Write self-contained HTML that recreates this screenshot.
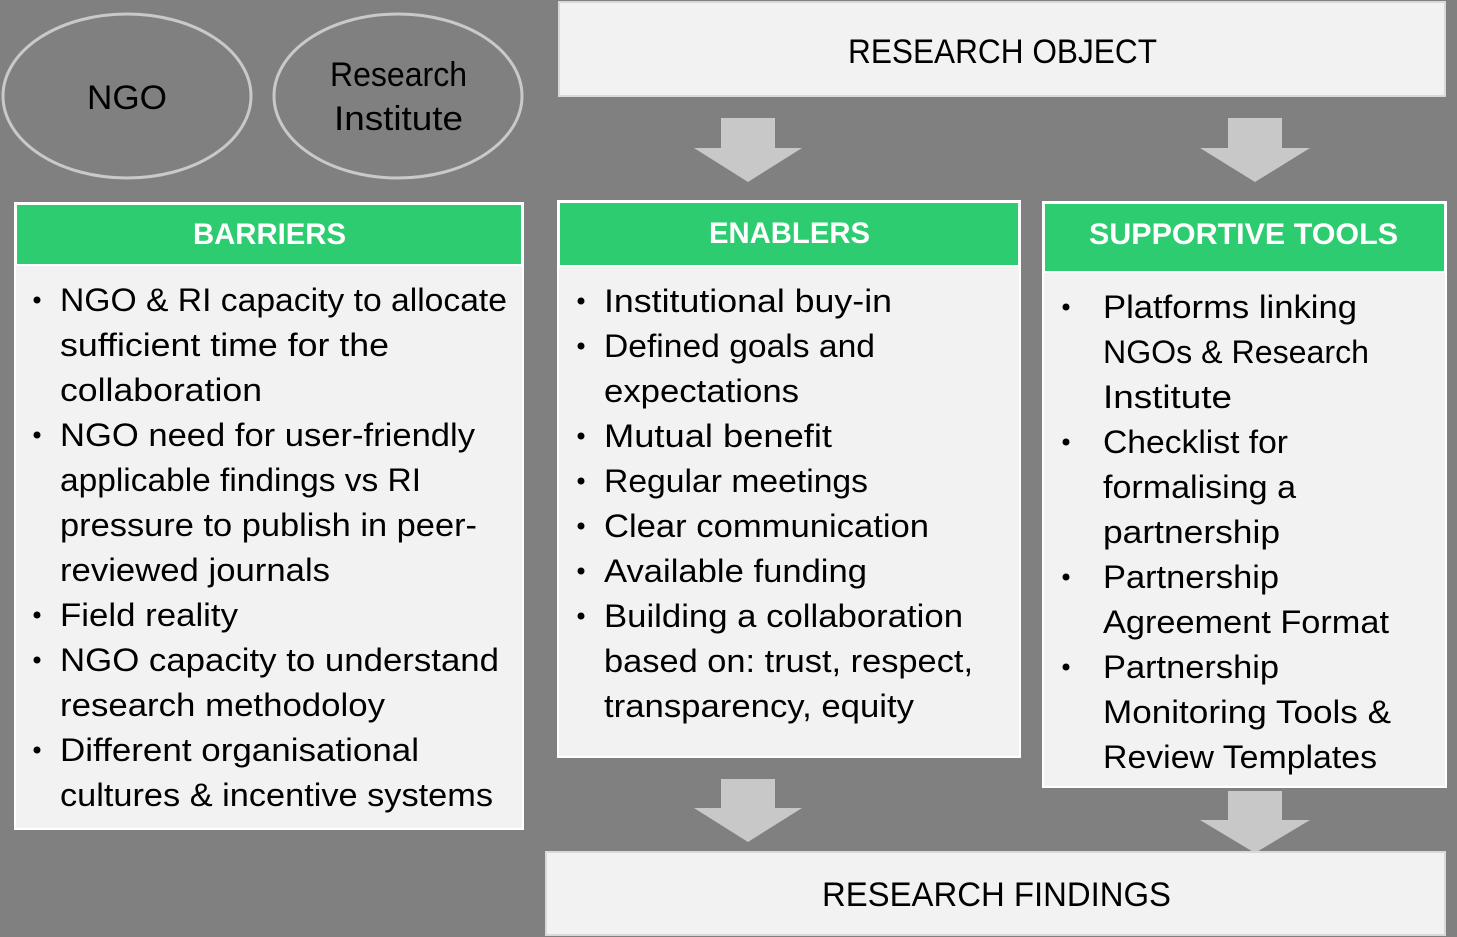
<!DOCTYPE html>
<html><head><meta charset="utf-8"><style>html,body{margin:0;padding:0;background:#808080;}svg{display:block}</style></head>
<body>
<svg width="1457" height="937" viewBox="0 0 1457 937" xmlns="http://www.w3.org/2000/svg" font-family="'Liberation Sans', sans-serif">
<rect width="1457" height="937" fill="#808080"/>
<ellipse cx="127" cy="96" rx="124" ry="82" fill="none" stroke="#c9c9c9" stroke-width="3"/>
<ellipse cx="398" cy="96" rx="124" ry="82" fill="none" stroke="#c9c9c9" stroke-width="3"/>
<g font-size="34" fill="#000">
<text x="87" y="109" textLength="80" lengthAdjust="spacingAndGlyphs">NGO</text>
<text x="330" y="86" textLength="137" lengthAdjust="spacingAndGlyphs">Research</text>
<text x="334" y="130" textLength="129" lengthAdjust="spacingAndGlyphs">Institute</text>
</g>
<rect x="559" y="2" width="886" height="94" fill="#f2f2f2" stroke="#d9d9d9" stroke-width="2"/>
<text x="848" y="63" font-size="34" textLength="309" lengthAdjust="spacingAndGlyphs">RESEARCH OBJECT</text>
<g fill="#c8c8c8">
<polygon points="721,118 775,118 775,148 802,148 748,182 694,148 721,148"/>
<polygon points="1228,118 1282,118 1282,148 1310,148 1255,182 1200,148 1228,148"/>
<polygon points="721,779 775,779 775,808 802,808 748,842 694,808 721,808"/>
<polygon points="1228,791 1282,791 1282,820 1310,820 1255,853 1200,820 1228,820"/>
</g>
<!-- boxes -->
<rect x="15" y="203" width="508" height="626" fill="#f2f2f2" stroke="#fff" stroke-width="2"/>
<rect x="16" y="204" width="506" height="61" fill="#2ecc71" stroke="#fff" stroke-width="2"/>
<rect x="558" y="201" width="462" height="556" fill="#f2f2f2" stroke="#fff" stroke-width="2"/>
<rect x="559" y="202" width="460" height="64" fill="#2ecc71" stroke="#fff" stroke-width="2"/>
<rect x="1043" y="202" width="403" height="585" fill="#f2f2f2" stroke="#fff" stroke-width="2"/>
<rect x="1044" y="203" width="401" height="69" fill="#2ecc71" stroke="#fff" stroke-width="2"/>
<g font-size="30" font-weight="bold" fill="#fff">
<text x="193" y="244" textLength="153" lengthAdjust="spacingAndGlyphs">BARRIERS</text>
<text x="709" y="243" textLength="161" lengthAdjust="spacingAndGlyphs">ENABLERS</text>
<text x="1089" y="244" textLength="309" lengthAdjust="spacingAndGlyphs">SUPPORTIVE TOOLS</text>
</g>
<g font-size="32" fill="#000" lengthAdjust="spacingAndGlyphs">
<text x="60" y="311" textLength="447" lengthAdjust="spacingAndGlyphs">NGO &amp; RI capacity to allocate</text>
<text x="60" y="356" textLength="329" lengthAdjust="spacingAndGlyphs">sufficient time for the</text>
<text x="60" y="401" textLength="202" lengthAdjust="spacingAndGlyphs">collaboration</text>
<text x="60" y="446" textLength="415" lengthAdjust="spacingAndGlyphs">NGO need for user-friendly</text>
<text x="60" y="491" textLength="361" lengthAdjust="spacingAndGlyphs">applicable findings vs RI</text>
<text x="60" y="536" textLength="417" lengthAdjust="spacingAndGlyphs">pressure to publish in peer-</text>
<text x="60" y="581" textLength="270" lengthAdjust="spacingAndGlyphs">reviewed journals</text>
<text x="60" y="626" textLength="178" lengthAdjust="spacingAndGlyphs">Field reality</text>
<text x="60" y="671" textLength="439" lengthAdjust="spacingAndGlyphs">NGO capacity to  understand</text>
<text x="60" y="716" textLength="325" lengthAdjust="spacingAndGlyphs">research methodoloy</text>
<text x="60" y="761" textLength="359" lengthAdjust="spacingAndGlyphs">Different organisational</text>
<text x="60" y="806" textLength="433" lengthAdjust="spacingAndGlyphs">cultures &amp; incentive systems</text>

<text x="604" y="312" textLength="288" lengthAdjust="spacingAndGlyphs">Institutional buy-in</text>
<text x="604" y="357" textLength="271" lengthAdjust="spacingAndGlyphs">Defined goals and</text>
<text x="604" y="402" textLength="195" lengthAdjust="spacingAndGlyphs">expectations</text>
<text x="604" y="447" textLength="228" lengthAdjust="spacingAndGlyphs">Mutual benefit</text>
<text x="604" y="492" textLength="264" lengthAdjust="spacingAndGlyphs">Regular meetings</text>
<text x="604" y="537" textLength="325" lengthAdjust="spacingAndGlyphs">Clear communication</text>
<text x="604" y="582" textLength="263" lengthAdjust="spacingAndGlyphs">Available funding</text>
<text x="604" y="627" textLength="359" lengthAdjust="spacingAndGlyphs">Building a collaboration</text>
<text x="604" y="672" textLength="369" lengthAdjust="spacingAndGlyphs">based on: trust, respect,</text>
<text x="604" y="717" textLength="310" lengthAdjust="spacingAndGlyphs">transparency, equity</text>

<text x="1103" y="318" textLength="254" lengthAdjust="spacingAndGlyphs">Platforms linking</text>
<text x="1103" y="363" textLength="266" lengthAdjust="spacingAndGlyphs">NGOs &amp; Research</text>
<text x="1103" y="408" textLength="129" lengthAdjust="spacingAndGlyphs">Institute</text>
<text x="1103" y="453" textLength="185" lengthAdjust="spacingAndGlyphs">Checklist for</text>
<text x="1103" y="498" textLength="193" lengthAdjust="spacingAndGlyphs">formalising a</text>
<text x="1103" y="543" textLength="177" lengthAdjust="spacingAndGlyphs">partnership</text>
<text x="1103" y="588" textLength="176" lengthAdjust="spacingAndGlyphs">Partnership</text>
<text x="1103" y="633" textLength="286" lengthAdjust="spacingAndGlyphs">Agreement Format</text>
<text x="1103" y="678" textLength="176" lengthAdjust="spacingAndGlyphs">Partnership</text>
<text x="1103" y="723" textLength="288" lengthAdjust="spacingAndGlyphs">Monitoring Tools &amp;</text>
<text x="1103" y="768" textLength="274" lengthAdjust="spacingAndGlyphs">Review Templates</text>
</g>
<g fill="#000">
<circle cx="37" cy="300" r="3.5"/><circle cx="37" cy="435" r="3.5"/><circle cx="37" cy="615" r="3.5"/><circle cx="37" cy="660" r="3.5"/><circle cx="37" cy="750" r="3.5"/>
<circle cx="581" cy="301" r="3.5"/><circle cx="581" cy="346" r="3.5"/><circle cx="581" cy="436" r="3.5"/><circle cx="581" cy="481" r="3.5"/><circle cx="581" cy="526" r="3.5"/><circle cx="581" cy="571" r="3.5"/><circle cx="581" cy="616" r="3.5"/>
<circle cx="1066" cy="307" r="3.5"/><circle cx="1066" cy="442" r="3.5"/><circle cx="1066" cy="577" r="3.5"/><circle cx="1066" cy="667" r="3.5"/>
</g>
<rect x="546" y="852" width="899" height="83" fill="#f2f2f2" stroke="#d9d9d9" stroke-width="2"/>
<text x="822" y="906" font-size="34" textLength="349" lengthAdjust="spacingAndGlyphs">RESEARCH FINDINGS</text>
</svg>
</body></html>
